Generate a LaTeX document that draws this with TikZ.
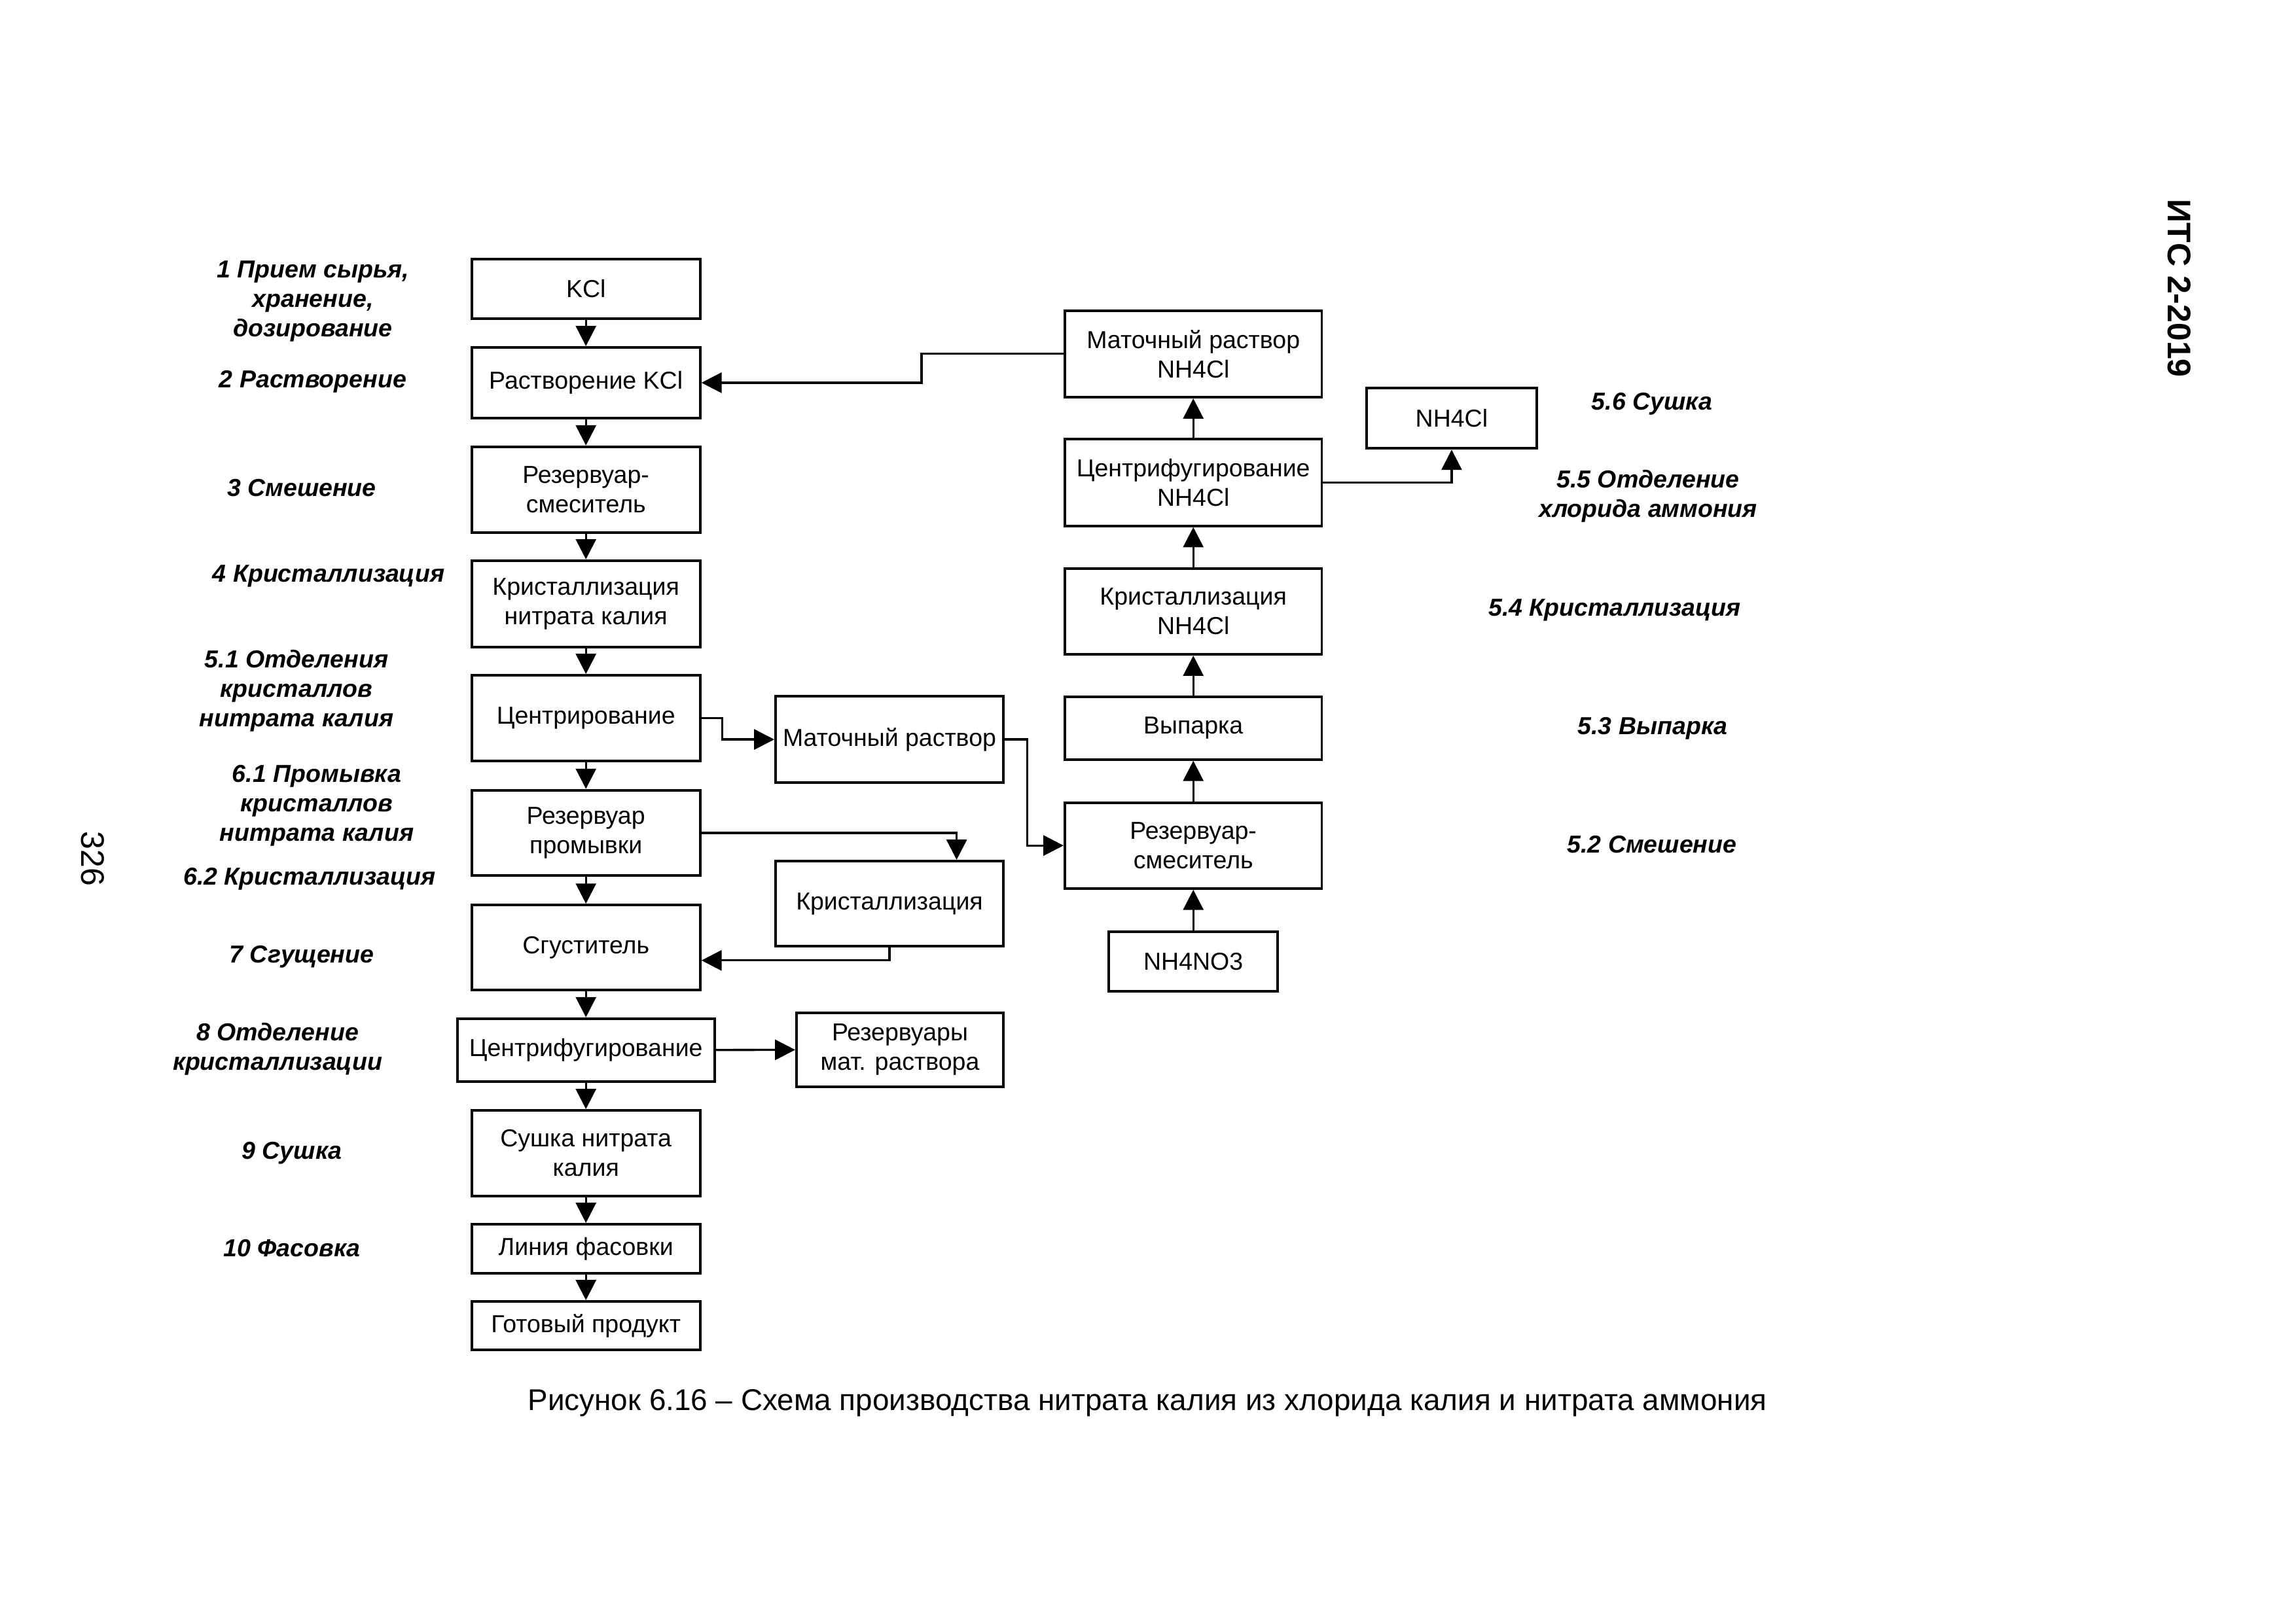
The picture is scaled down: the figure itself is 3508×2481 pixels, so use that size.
\documentclass[tikz,border=0pt]{standalone}
\usepackage{fontspec}
\setmainfont{Liberation Sans}
\usetikzlibrary{arrows.meta,calc}
\begin{document}
\begin{tikzpicture}[x=0.24pt,y=-0.24pt,
  box/.style={draw, line width=0.95pt, rectangle, align=center, inner sep=1pt, font=\fontsize{9}{10.8}\selectfont},
  sz/.style 2 args={minimum width=#1*0.24pt, minimum height=#2*0.24pt},
  lbl/.style={align=center, inner sep=0pt, font=\fontsize{9}{10.8}\selectfont\bfseries\itshape},
  arr/.style={draw, line width=0.8pt, -{Triangle[length=7.4pt,width=7.4pt]}},
]
\fill[white] (0,0) rectangle (3508,2481);
\useasboundingbox (0,0) rectangle (3508,2481);

% left column
\node[box,sz={349}{91.5}] (kcl) at (895.2,441.4) {KCl};
\node[box,sz={349}{108}] (rast) at (895.2,584.9) {Растворение KCl};
\node[box,sz={349}{131.3}] (rsm) at (895.2,748.4) {Резервуар-\\смеситель};
\node[box,sz={349}{132.6}] (krnit) at (895.2,923.1) {Кристаллизация\\нитрата калия};
\node[box,sz={349}{131.4}] (centr) at (895.2,1097.7) {Центрирование};
\node[box,sz={349}{130.8}] (prom) at (895.2,1273) {Резервуар\\промывки};
\node[box,sz={349}{129.5}] (sgust) at (895.2,1447.8) {Сгуститель};
\node[box,sz={393}{96}] (cf) at (895.2,1604.7) {Центрифугирование};
\node[box,sz={349}{131}] (sush) at (895.2,1762.5) {Сушка нитрата\\калия};
\node[box,sz={349}{75}] (lin) at (895.2,1908.5) {Линия фасовки};
\node[box,sz={349}{74}] (got) at (895.2,2026) {Готовый продукт};

% middle column
\node[box,sz={348}{132.6}] (mat) at (1359,1130.1) {Маточный раствор};
\node[box,sz={348}{130.4}] (kryst) at (1359,1381.2) {Кристаллизация};
\node[box,sz={316}{112.7}] (rez) at (1375,1604.4) {Резервуары\\мат. раствора};

% right column
\node[box,sz={392.5}{132.4}] (mtnh) at (1823.2,540.8) {Маточный раствор\\NH4Cl};
\node[box,sz={392.5}{132.6}] (cfnh) at (1823.2,737.3) {Центрифугирование\\NH4Cl};
\node[box,sz={392.5}{131.2}] (krnh) at (1823.2,934.4) {Кристаллизация\\NH4Cl};
\node[box,sz={392.5}{96}] (vyp) at (1823.2,1112.7) {Выпарка};
\node[box,sz={392.5}{131.2}] (rsm2) at (1823.2,1292.2) {Резервуар-\\смеситель};
\node[box,sz={258}{91}] (nh4no3) at (1823.2,1469.2) {NH4NO3};
\node[box,sz={260}{92.4}] (nh4cl) at (2217.9,639.1) {NH4Cl};

% left column connectors
\draw[arr] (kcl.south) -- (rast.north);
\draw[arr] (rast.south) -- (rsm.north);
\draw[arr] (rsm.south) -- (krnit.north);
\draw[arr] (krnit.south) -- (centr.north);
\draw[arr] (centr.south) -- (prom.north);
\draw[arr] (prom.south) -- (sgust.north);
\draw[arr] (sgust.south) -- (cf.north);
\draw[arr] (cf.south) -- (sush.north);
\draw[arr] (sush.south) -- (lin.north);
\draw[arr] (lin.south) -- (got.north);

% side connectors
\draw[arr] (mtnh.west) -- ++(-217,0) |- (rast.east);
\draw[arr] (centr.east) -- ++(32,0) |- (mat.west);
\draw[arr] (mat.east) -- ++(34.5,0) |- (rsm2.west);
\draw[arr] (prom.east) -| ($(kryst.north)+(102.6,0)$);
\draw[arr] (kryst.south) |- ($(sgust.east)+(0,20)$);
\draw[arr] (cf.east) -- (rez.west);

% right column connectors
\draw[arr] (nh4no3.north) -- (rsm2.south);
\draw[arr] (rsm2.north) -- (vyp.south);
\draw[arr] (vyp.north) -- (krnh.south);
\draw[arr] (krnh.north) -- (cfnh.south);
\draw[arr] (cfnh.north) -- (mtnh.south);
\draw[arr] (cfnh.east) -| (nh4cl.south);

% stage labels
\node[lbl] (l1) at (478,460) {1 Прием сырья,\\хранение,\\дозирование};
\node[lbl] (l2) at (478,583) {2 Растворение};
\node[lbl] (l3) at (461,746) {3 Смешение};
\node[lbl] (l4) at (502,880) {4 Кристаллизация};
\node[lbl] (l51) at (453,1056) {5.1 Отделения\\кристаллов\\нитрата калия};
\node[lbl] (l61) at (484,1231) {6.1 Промывка\\кристаллов\\нитрата калия};
\node[lbl] (l62) at (473,1343) {6.2 Кристаллизация};
\node[lbl] (l7) at (461,1462) {7 Сгущение};
\node[lbl] (l8) at (424,1603) {8 Отделение\\кристаллизации};
\node[lbl] (l9) at (446,1762) {9 Сушка};
\node[lbl] (l10) at (446,1907.6) {10 Фасовка};
\node[lbl] (l56) at (2524,617.4) {5.6 Сушка};
\node[lbl] (l55) at (2518,758) {5.5 Отделение\\хлорида аммония};
\node[lbl] (l54) at (2467,932) {5.4 Кристаллизация};
\node[lbl] (l53) at (2525,1113) {5.3 Выпарка};
\node[lbl] (l52) at (2524,1291) {5.2 Смешение};

% page furniture
\node[font=\fontsize{12}{14}\selectfont\bfseries, rotate=-90, inner sep=0pt] (hdr) at (3330,440.7) {ИТС 2-2019};
\node[font=\fontsize{12}{14}\selectfont, rotate=-90, inner sep=0pt] (pg) at (141.7,1312.5) {326};
\node[font=\fontsize{11}{13}\selectfont, anchor=base, inner sep=0pt] (cap) at (1753,2155) {Рисунок 6.16 – Схема производства нитрата калия из хлорида калия и нитрата аммония};
\end{tikzpicture}
\end{document}
